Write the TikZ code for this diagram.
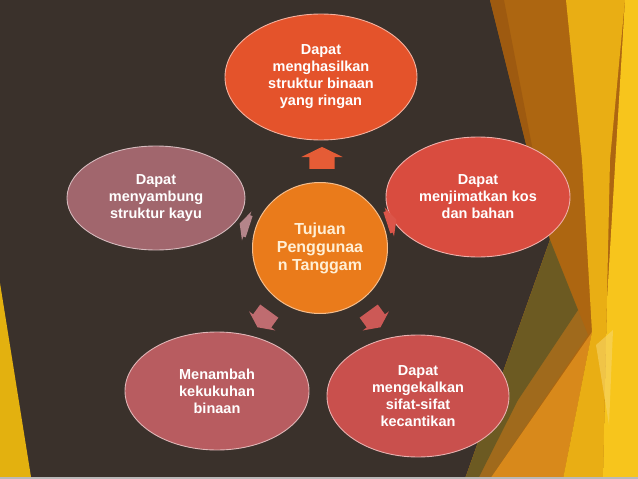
\documentclass[tikz,border=0pt]{standalone}
\usepackage{fontspec}
\setmainfont{Liberation Sans}[BoldFont=Liberation Sans Bold]
\usetikzlibrary{shapes.geometric,shapes.arrows}

\definecolor{slide}{HTML}{3A312B}
\definecolor{facetdark}{HTML}{9E5A10}
\definecolor{facetbrown}{HTML}{AD6611}
\definecolor{facetolive}{HTML}{6C5A22}
\definecolor{facetrust}{HTML}{A06A1C}
\definecolor{facetorange}{HTML}{D8891B}
\definecolor{facetamber}{HTML}{E9AE14}
\definecolor{facetyellow}{HTML}{F7C51C}
\definecolor{facetpale}{HTML}{F6D469}
\definecolor{sideyellow}{HTML}{E3B10F}
\definecolor{ctop}{HTML}{E4532B}
\definecolor{cright}{HTML}{D94C3F}
\definecolor{cbotright}{HTML}{C9504D}
\definecolor{cbotleft}{HTML}{B85C60}
\definecolor{cleft}{HTML}{A1666D}
\definecolor{chub}{HTML}{EA7B1B}
\definecolor{hubtext}{HTML}{FFEFD5}

\begin{document}
\begin{tikzpicture}
    [x=1pt,y=-1pt,
     bubble/.style={ellipse,fill=#1,draw=#1!45!white,line width=0.9pt,
       text=white,font=\fontsize{14.5}{17}\selectfont\bfseries,
       align=center,inner sep=0pt},
     blockarrow/.style={single arrow,fill=#1,draw=none,inner xsep=0pt,
       single arrow tip angle=128}]

    \useasboundingbox (0,0) rectangle (638,479);

    % slide background:
    \fill [slide] (0,0) rectangle (638,479);
    \fill [sideyellow] (0,283) -- (31,477) -- (0,477) -- cycle;

    % facets on the right:
    \fill [facetbrown] (490,0) -- (638,0) -- (638,479) -- (465,479) -- (550,240) -- cycle;
    \fill [facetdark] (490,0) -- (504,0) -- (550,240) -- cycle;
    \fill [facetrust] (550,240) -- (588,335) -- (490,479) -- (465,479) -- cycle;
    \fill [facetolive] (550,240) -- (578,310) -- (518,400) -- (478,479) -- (465,479) -- cycle;
    \fill [facetorange] (490,479) -- (592,332) -- (563,479) -- cycle;
    \fill [facetamber] (566,0) -- (625,0) -- (610,160) -- (603,479) -- (563,479)
      -- (592,332) -- (582,160) -- cycle;
    \fill [facetyellow] (625,0) -- (638,0) -- (638,479) -- (603,479) -- (607,300) -- cycle;
    \fill [facetpale, opacity=0.6] (596,345) -- (613,330) -- (609,425) -- cycle;
    \fill [gray!55] (0,476.5) rectangle (638,479);

    % outer bubbles:
    \node (top) at (321,77) [bubble=ctop,minimum width=192pt,minimum height=126pt]
      {Dapat\\menghasilkan\\struktur binaan\\yang ringan};
    \node (right) at (478,197) [bubble=cright,minimum width=184pt,minimum height=120pt]
      {Dapat\\menjimatkan kos\\dan bahan};
    \node (botright) at (418,396) [bubble=cbotright,minimum width=182pt,minimum height=122pt]
      {Dapat\\mengekalkan\\sifat-sifat\\kecantikan};
    \node (botleft) at (217,391) [bubble=cbotleft,minimum width=184pt,minimum height=118pt]
      {Menambah\\kekukuhan\\binaan};
    \node (left) at (156,198) [bubble=cleft,minimum width=178pt,minimum height=104pt]
      {Dapat\\menyambung\\struktur kayu};

    % centre:
    \node (hub) at (320,248) [ellipse,fill=chub,draw=chub!50!white,line width=1pt,
      minimum width=135pt,minimum height=131pt,inner sep=0pt,align=center,
      text=hubtext,font=\fontsize{16}{18}\selectfont\bfseries]
      {Tujuan\\Penggunaa\\n Tanggam};

    % arrows out of the centre:
    \node (aup) at (322,161) [blockarrow=ctop!95!white,rotate=90,inner ysep=12.5pt,
      minimum height=22pt,single arrow head extend=8pt] {};
    \node (aright) at (389,222) [blockarrow=cright!95!white,rotate=18,inner ysep=11pt,
      minimum height=10pt,single arrow head extend=4pt] {};
    \node (abotright) at (373,317) [blockarrow=cbotright!95!white,rotate=-54,inner ysep=11pt,
      minimum height=20pt,single arrow head extend=5pt] {};
    \node (abotleft) at (265,317) [blockarrow=cbotleft!90!white,rotate=234,inner ysep=11pt,
      minimum height=20pt,single arrow head extend=5pt] {};
    \node (aleft) at (247,226) [blockarrow=cleft!80!white,rotate=162,inner ysep=11pt,
      minimum height=10pt,single arrow head extend=4pt] {};

  \end{tikzpicture}
\end{document}
